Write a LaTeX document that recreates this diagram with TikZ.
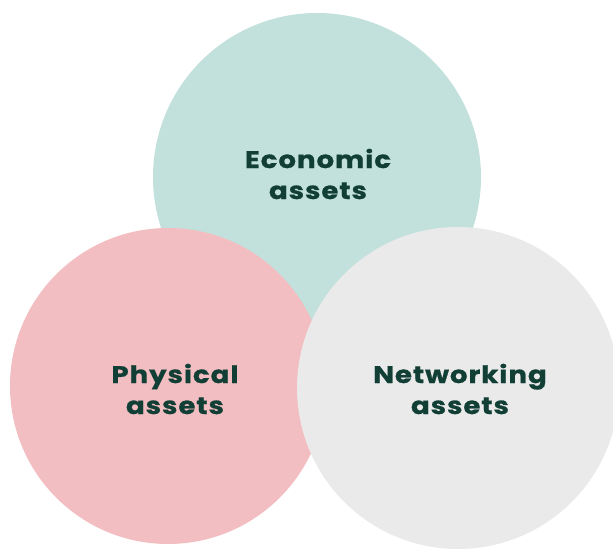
\documentclass[tikz,border=0pt]{standalone}
\usepackage{fontspec}
\setmainfont{Poppins}
\newfontfamily\assetfont{Poppins}[FakeStretch=1.15, LetterSpace=4, FakeBold=0.8]
\usepackage{tikz}

\definecolor{econteal}{HTML}{C2E1DC}
\definecolor{physpink}{HTML}{F3BEC1}
\definecolor{netgray}{HTML}{EAEAEA}
\definecolor{labelgreen}{HTML}{123F35}

\tikzset{
    assetlabel/.style={align=center, text=labelgreen,
        font=\assetfont\fontsize{24}{31}\selectfont\bfseries}
}

\begin{document}
\begin{tikzpicture}[x=1pt, y=1pt]

\useasboundingbox (0,0) rectangle (613,552);

% Economic (back circle)
\fill[econteal] (317,375) circle (164);

% Physical (middle circle)
\fill[physpink] (168,166) circle (158);

% Networking (front circle)
\fill[netgray] (458,164) circle (161);

% Labels
\node[assetlabel] (econ) at (318,378) {Economic\\assets};
\node[assetlabel] (phys) at (175,163) {Physical\\assets};
\node[assetlabel] (net) at (460,163) {Networking\\assets};

\end{tikzpicture}
\end{document}
